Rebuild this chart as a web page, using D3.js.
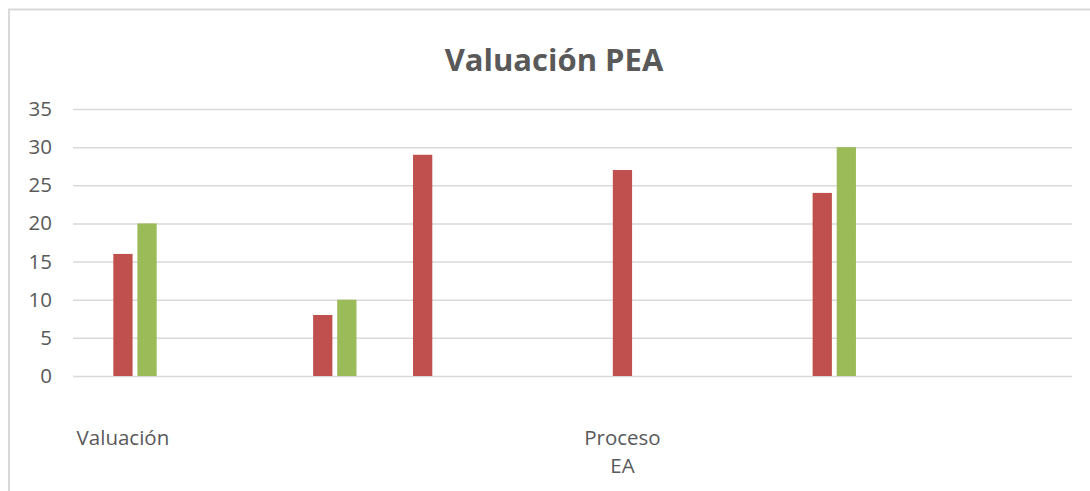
<!DOCTYPE html>
<html>
<head>
<meta charset="utf-8">
<script src="https://cdn.jsdelivr.net/npm/d3@7"></script>
<style>
  body { margin: 0; background: #fff; }
  svg { display: block; font-family: "Open Sans", sans-serif; }
</style>
</head>
<body>
<div id="chart"></div>
<script>
// Chart data (10 category slots, only two carry a visible label)
var categories = ["Valuación", "", "", "", "", "Proceso EA", "", "", "", ""];
var seriesNames = ["Serie 1", "Serie 2", "Serie 3"];
var serie1 = [null, null, null, null, null, null, null, null, null, null];
var serie2 = [16, null, 8, 29, null, 27, null, 24, null, null];
var serie3 = [20, null, 10, null, null, null, null, 30, null, null];
var yTicks = [0, 5, 10, 15, 20, 25, 30, 35];

var w = 1090, h = 491;
var margin = {top: 109, right: 18, bottom: 115, left: 73};
var width = w - margin.left - margin.right;
var height = h - margin.top - margin.bottom;

var colors = ["#4F81BD", "#C0504D", "#9BBB59"];
var allSeries = [serie1, serie2, serie3];

var svg = d3.select("#chart")
  .append("svg")
    .attr("width", w)
    .attr("height", h);

// Chart area border
svg.append("path")
  .attr("d", "M9,491 L9,9.5 L1090,9.5")
  .attr("fill", "none")
  .attr("stroke", "#D9D9D9")
  .attr("stroke-width", 2);

// Title
svg.append("text")
  .attr("x", 554)
  .attr("y", 71)
  .attr("text-anchor", "middle")
  .attr("font-size", "31px")
  .attr("font-weight", 700)
  .attr("fill", "#595959")
  .text("Valuación PEA");

var chart = svg.append("g")
  .attr("transform", "translate(" + margin.left + "," + margin.top + ")");

// Scales
var xScale = d3.scaleBand().domain(d3.range(categories.length)).range([0, width]);
var xInner = d3.scaleBand().domain(d3.range(seriesNames.length))
  .range([0, xScale.bandwidth() * 0.675]).paddingInner(0.2);
var yScale = d3.scaleLinear().domain([0, 35]).range([height, 0]);

// Gridlines
var yAxis = d3.axisLeft(yScale).tickValues(yTicks).tickSize(-width).tickPadding(21);
var gy = chart.append("g").call(yAxis);
gy.select(".domain").remove();
gy.selectAll(".tick line").attr("stroke", "#D9D9D9").attr("stroke-width", 1.5);
gy.selectAll(".tick text")
  .attr("font-size", "20.5px")
  .attr("fill", "#595959")
  .attr("font-family", "Open Sans, sans-serif");

// Bars
var groupOffset = (xScale.bandwidth() - xInner.range()[1]) / 2;
allSeries.forEach(function(values, s) {
  chart.selectAll(".bar" + s)
    .data(values.map(function(v, i) { return {i: i, v: v}; }).filter(function(d) { return d.v != null; }))
    .enter().append("rect")
      .attr("x", function(d) { return xScale(d.i) + groupOffset + xInner(s); })
      .attr("y", function(d) { return yScale(d.v); })
      .attr("width", xInner.bandwidth())
      .attr("height", function(d) { return height - yScale(d.v); })
      .attr("fill", colors[s]);
});

// Category labels
chart.selectAll(".xlabel")
  .data(categories.map(function(c, i) { return {i: i, c: c}; }).filter(function(d) { return d.c !== ""; }))
  .enter().append("text")
    .attr("text-anchor", "middle")
    .attr("font-size", "20.5px")
    .attr("fill", "#595959")
    .each(function(d) {
      var words = d.c.split(" ");
      var t = d3.select(this);
      var cx = xScale(d.i) + xScale.bandwidth() / 2;
      if (d.i === 0) {
        t.append("tspan").attr("x", cx).attr("y", height + 69).text(d.c);
      } else {
        words.forEach(function(wd, k) {
          t.append("tspan").attr("x", cx).attr("y", height + 69 + k * 28).text(wd);
        });
      }
    });
</script>
</body>
</html>
